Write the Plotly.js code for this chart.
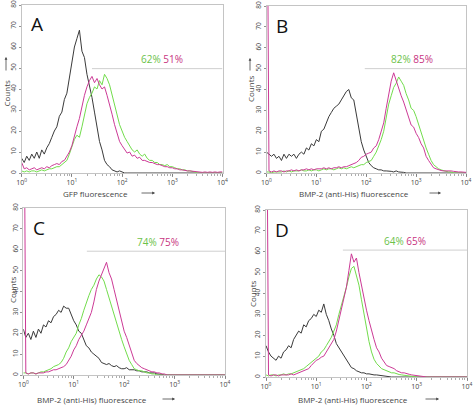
<!DOCTYPE html>
<html>
<head>
<meta charset="utf-8">
<script src="https://cdn.plot.ly/plotly-3.0.1.min.js"></script>
<style>
html,body{margin:0;padding:0;background:#fff;}
#chart{width:474px;height:405px;}
</style>
</head>
<body>
<div id="chart"></div>
<script>
// Channel positions (log10 of fluorescence)
const LOG_BINS = [
  0.00,0.05,0.10,0.15,0.20,0.25,0.30,0.35,0.40,0.45,
  0.50,0.55,0.60,0.65,0.70,0.75,0.80,0.85,0.90,0.95,
  1.00,1.05,1.10,1.15,1.20,1.25,1.30,1.35,1.40,1.45,
  1.50,1.55,1.60,1.65,1.70,1.75,1.80,1.85,1.90,1.95,
  2.00,2.05,2.10,2.15,2.20,2.25,2.30,2.35,2.40,2.45,
  2.50,2.55,2.60,2.65,2.70,2.75,2.80,2.85,2.90,2.95,
  3.00,3.05,3.10,3.15,3.20,3.25,3.30,3.35,3.40,3.45,
  3.50,3.55,3.60,3.65,3.70,3.75,3.80,3.85,3.90,3.95,
  4.00
];

// Panel A (GFP)
const A_black = [
  7,5,8,6,9,7,10,7,11,9,
  12,14,17,20,22,27,29,35,38,46,
  54,60,64,68,58,55,47,42,36,29,
  22,15,11,6,4,3,1.5,1,0.5,1,
  0.3,0,0,0,0,0,0,0,0,0,
  0,0,0,0,0,0,0,0,0,0,
  0,0,0,0,0,0,0,0,0,0,
  0,0,0,0,0,0,0,0,0,0,
  0
];
const A_green = [
  1,0.5,1,0.5,1,1,0.5,1,1.5,1,
  1.5,2,2,2.5,3,3,4,5,6,9,
  13,16,18,17,22,28,33,36,38,41,
  40,44,42,47,45,42,37,32,28,23,
  20,17,15,13,11,10,11,9,8,9,
  7,6,6,5,5,4,4,3.5,4,3,
  3,2.5,2,2,1.5,1.5,1,1,0.8,0.5,
  0,0,0,0,0,0,0,0,0,0,
  0
];
const A_magenta = [
  5,2,2.5,1.5,2,2.5,1.5,2,2.5,2,
  3,2.5,3.5,4,4.5,4,5.5,6,8,10,
  13,18,22,26,32,37,41,44,46,43,
  45,42,40,41,37,33,28,23,19,15,
  13,11,9.5,10,8,8.5,7,7.5,6,6,
  5.5,5,5,4.5,4,4,3.5,3,3,2.5,
  2.5,2,2,1.5,1.5,1.2,1,1,0.8,0.6,
  0.5,0.5,0.3,0.5,0.3,0.5,0.3,0.5,0.3,0.5,
  0.5
];

// Panel B
const B_black = [
  10,9,8,9,7,8,6,9,7,9,
  8,9,7,9,10,9,12,11,14,13,
  16,15,20,21,24,27,29,31,32,33,
  35,37,39,40,36,35,28,22,15,11,
  8,5,3.5,2.5,2,1.5,1.5,1,1,1,
  0.8,0.5,1,0.5,0.5,0.3,0,0,0,0,
  0,0,0,0,0,0,0,0,0,0,
  0,0,0,0,0,0,0,0,0,0,
  0
];
const B_green = [
  0.5,0.5,0,0.5,0.5,0.5,0.5,1,0.5,1,
  0.5,1,1,1,1.5,1,1,1.5,1,1.5,
  1.5,1,1.5,2,1.5,2,2,1.5,2,2.5,
  2,2.5,2,2.5,3,2.5,3,3.5,4,4,
  5,5.5,6,8,10,13,16,20,27,33,
  37,41,43,46,44,42,38,35,31,30,
  27,23,19,15,12,9,6,4,3,2,
  1.5,1,0.8,0.5,0.5,0,0,0,0,0,
  0
];
const B_magenta = [
  200,1,0.5,1,0.5,1,1,0.5,1,1,
  1.5,1,1.5,1,1.5,1.5,2,1.5,2,1.5,
  2,2,2,2.5,2,2.5,2,2.5,2.5,3,
  2.5,3,3,3.5,4,4.5,5,6,7.5,8,
  9,9.5,10,12,13,16,20,24,31,38,
  44,48,44,41,37,34,30,27,23,22,
  19,17,14,12,8,6,4,2.5,2,1.5,
  1.2,1,1,1.2,1,0.8,0.5,0.5,0.5,0.3,
  0.3
];

// Panel C
const C_black = [
  22,18,20,17,21,18,22,20,24,23,
  26,25,28,29,31,30,33,32,32,29,
  26,24,21,20,17,14,13,11,10,9,
  8,6,5.5,5,5.5,4.5,4,4.5,3.5,3,
  3,3.5,2.5,2.5,2.5,2,2,1.5,1.5,1.5,
  1,1,1,0.5,0.5,0.3,0,0,0,0,
  0,0,0,0,0,0,0,0,0,0,
  0,0,0,0,0,0,0,0,0,0,
  0
];
const C_green = [
  1,1,0.5,1,1,0.5,1,1.5,1.5,2,
  2.5,3,4,4.5,5,6,8,11,13,16,
  18,20,24,27,31,35,38,41,43,46,
  48,47,45,41,37,33,29,25,20,17,
  13.5,10,7,5,3,2.5,2,2,1.5,1,
  1,0.5,0.5,0,0,0,0,0,0,0,
  0,0,0,0,0,0,0,0,0,0,
  0,0,0,0,0,0,0,0,0,0,
  0
];
const C_magenta = [
  200,1,0.5,1,1,0.5,1,1,1,1.5,
  1.5,2,2.5,2.5,3,3.5,4,5,7,9,
  12,14,17,19,21,24,27,30,35,41,
  45,48,51,54,49,46,41,36,31,26,
  21,18,14,10,7,5.5,4.5,3.5,3,2.5,
  2,1.5,1.5,1,1,0.5,0.5,0,0,0,
  0,0,0,0,0,0,0,0,0,0,
  0,0,0,0,0,0,0,0,0,0,
  0
];

// Panel D
const D_black = [
  15,12,10,9,8,10,9,12,13,15,
  14,18,20,22,21,25,24,27,28,30,
  29,32,31,35,30,27,23,20,16,14,
  12,10,8,6,4.5,4,3,2.5,2,2,
  1.5,1.5,1.2,1,1,0.8,0.8,0.5,0.5,0.3,
  0,0,0,0,0,0,0,0,0,0,
  0,0,0,0,0,0,0,0,0,0,
  0,0,0,0,0,0,0,0,0,0,
  0
];
const D_green = [
  1,0.5,1,1,0.5,1,1,1.5,1,1.5,
  1.5,2,2.5,3,3.5,4,5,6,7,8,
  9,10,12,13,15,17,19,22,25,30,
  34,38,43,48,52,53,49,44,37,30,
  24,17,12,8.5,6.5,5,4,3.5,3,2.5,
  2,2,1.5,1.2,1,0.8,0.8,0.5,0.3,0,
  0,0,0,0,0,0,0,0,0,0,
  0,0,0,0,0,0,0,0,0,0,
  0
];
const D_magenta = [
  200,1,0.5,1,1,0.5,1,1,1,1,
  1.5,1,1.5,2,2.5,3,3.5,4,5.5,7,
  8,8.5,9.5,10,12,14,16,18,22,27,
  32,37,43,51,59,55,57,50,44,37,
  32,27,22,18,14,12,9,7.5,5.5,5,
  4.5,4,3,2.5,2,2,1.5,1.3,1,0.8,
  0.6,0.5,0.3,0,0,0,0,0,0,0,
  0,0,0,0,0,0,0,0,0,0,
  0
];

const PANEL_LETTERS = ['A','B','C','D'];
const X_TITLES = ['GFP fluorescence','BMP-2 (anti-His) fluorescence','BMP-2 (anti-His) fluorescence','BMP-2 (anti-His) fluorescence'];
const PCT_GREEN = ['62%','82%','74%','64%'];
const PCT_MAGENTA = ['51%','85%','75%','65%'];
// gate marker: start (log10) and level (counts); label position (log10, counts)
const GATE_START_LOG = [1.40, 1.97, 1.26, 1.53];
const GATE_LEVEL = [49.7, 50, 59.3, 60.8];
const LABEL_LOG = [2.79, 2.91, 2.68, 2.76];
const LABEL_LEVEL = [54.5, 54.5, 63.8, 65];
const X_TICK_VALS = [1,10,100,1000,10000];
const X_TICK_TEXT = ['10<sup>0</sup>','10<sup>1</sup>','10<sup>2</sup>','10<sup>3</sup>','10<sup>4</sup>'];
const Y_TICK_VALS = [0,10,20,30,40,50,60,70,80];

const series = [
  [A_black, A_green, A_magenta],
  [B_black, B_green, B_magenta],
  [C_black, C_green, C_magenta],
  [D_black, D_green, D_magenta]
];

const W = 474, H = 405;
const px = v => v / W;
const py = v => 1 - v / H;

// pixel boxes of each panel [left, right, top, bottom]
const boxes = [
  [21.7, 222.5, 5, 173],
  [266.5, 466, 6, 173],
  [23.3, 225, 208, 375],
  [266, 467, 210, 377]
];

const COL_BLACK = '#3a3a3a';
const COL_GREEN = '#72dc4c';
const COL_MAGENTA = '#cc3a96';
const TXT_GREEN = '#6cc24a';
const TXT_MAGENTA = '#c8347f';
const FONT = 'Open Sans, Liberation Sans, sans-serif';

const xs = LOG_BINS.map(v => Math.pow(10, v));
const traces = [];
const layout = {
  width: W, height: H,
  margin: {l:0, r:0, t:0, b:0},
  paper_bgcolor: '#fff', plot_bgcolor: '#fff',
  showlegend: false,
  font: {family: FONT, color: '#444'},
  annotations: [], shapes: []
};

const cols = [COL_BLACK, COL_GREEN, COL_MAGENTA];

for (let p = 0; p < 4; p++) {
  const n = p + 1;
  const xa = 'x' + (n === 1 ? '' : n), ya = 'y' + (n === 1 ? '' : n);
  const xk = 'xaxis' + (n === 1 ? '' : n), yk = 'yaxis' + (n === 1 ? '' : n);
  const b = boxes[p];
  layout[xk] = {
    domain: [px(b[0]), px(b[1])], anchor: ya, type: 'log', range: [0, 4],
    showgrid: false, zeroline: false, showline: true, mirror: true,
    linecolor: '#c4c4c4', linewidth: 1,
    tickvals: X_TICK_VALS, ticktext: X_TICK_TEXT,
    ticks: 'outside', ticklen: 3, tickcolor: '#777', tickwidth: 0.8,
    tickfont: {size: 7, color: '#444', family: FONT},
    minor: {ticks: 'outside', ticklen: 2, tickcolor: '#999', dtick: 'D1', showgrid: false}
  };
  layout[yk] = {
    domain: [py(b[3]), py(b[2])], anchor: xa, range: [0, 80],
    showgrid: false, zeroline: false, showline: true, mirror: true,
    linecolor: '#c4c4c4', linewidth: 1,
    tickvals: Y_TICK_VALS, tickangle: -90,
    ticks: 'outside', ticklen: 2, tickcolor: '#777', tickwidth: 0.8,
    tickfont: {size: 6.5, color: '#444', family: FONT}
  };
  // gate line
  traces.push({
    x: [Math.pow(10, GATE_START_LOG[p]), 10000], y: [GATE_LEVEL[p], GATE_LEVEL[p]],
    xaxis: xa, yaxis: ya, mode: 'lines', line: {color: '#cfcfcf', width: 1}, hoverinfo: 'skip'
  });
  for (let s = 0; s < 3; s++) {
    traces.push({
      x: xs, y: series[p][s], xaxis: xa, yaxis: ya, mode: 'lines',
      line: {color: cols[s], width: 1}, hoverinfo: 'skip'
    });
  }
  // percentages
  layout.annotations.push({
    xref: xa, yref: ya, x: LABEL_LOG[p], y: LABEL_LEVEL[p], showarrow: false,
    xanchor: 'center', yanchor: 'middle',
    text: '<span style="color:' + TXT_GREEN + '">' + PCT_GREEN[p] + '</span> <span style="color:' + TXT_MAGENTA + '">' + PCT_MAGENTA[p] + '</span>',
    font: {size: 10, family: FONT}
  });
  // panel letter
  layout.annotations.push({
    xref: 'paper', yref: 'paper', x: px(b[0] + 15.5), y: py(b[2] + 19.5),
    xanchor: 'center', yanchor: 'middle',
    showarrow: false, text: PANEL_LETTERS[p], font: {size: 19, color: '#111', family: FONT}
  });
}

// axis titles and arrows (pixel positions)
const xTitlePos = [[95,193],[354,193],[92,399],[353,399]];
const xArrowPos = [[140,155,193],[428,441,193],[161,175,399],[424,439,399]];
const yTitlePos = [[6,93.5],[250,89],[12,290],[252,293]];
const yArrowPos = [[6,72,57],[250,72,58],null,null];

for (let p = 0; p < 4; p++) {
  layout.annotations.push({
    xref:'paper', yref:'paper', x: px(xTitlePos[p][0]), y: py(xTitlePos[p][1]),
    xanchor:'center', yanchor:'middle',
    showarrow:false, text: X_TITLES[p], font:{size:8, color:'#444', family:FONT}
  });
  const xa = xArrowPos[p];
  layout.annotations.push({
    xref:'paper', yref:'paper', x: px(xa[1]), y: py(xa[2]), text:'',
    showarrow:true, ax: xa[0]-xa[1], ay: 0, arrowhead:2, arrowsize:0.7, arrowwidth:0.8, arrowcolor:'#444'
  });
  layout.annotations.push({
    xref:'paper', yref:'paper', x: px(yTitlePos[p][0]), y: py(yTitlePos[p][1]),
    xanchor:'center', yanchor:'middle',
    showarrow:false, textangle:-90, text:'Counts', font:{size:8, color:'#444', family:FONT}
  });
  const ya = yArrowPos[p];
  if (ya) {
    layout.annotations.push({
      xref:'paper', yref:'paper', x: px(ya[0]), y: py(ya[2]), text:'',
      showarrow:true, ax: 0, ay: ya[1]-ya[2], arrowhead:2, arrowsize:0.7, arrowwidth:0.8, arrowcolor:'#444'
    });
  }
}

Plotly.newPlot('chart', traces, layout, {staticPlot: true, displayModeBar: false});
</script>
</body>
</html>
